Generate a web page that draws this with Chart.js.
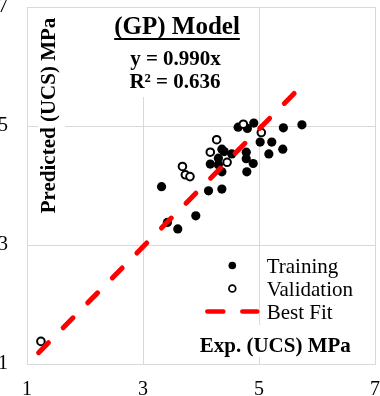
<!DOCTYPE html>
<html>
<head>
<meta charset="utf-8">
<script src="https://cdn.jsdelivr.net/npm/chart.js@4.4.1/dist/chart.umd.min.js"></script>
<style>
  html, body { margin: 0; padding: 0; background: #ffffff; overflow: hidden; width: 380px; height: 396px; }
  #wrap { position: absolute; left: -3px; top: -24px; width: 397px; height: 424px; }
  canvas { display: block; }
</style>
</head>
<body>
<div id="wrap"><canvas id="c" width="397" height="424" style="width:397px;height:424px"></canvas></div>
<script>
// ---- Data ----
const trainX = [3.32, 3.42, 3.60, 3.91, 4.13, 4.36, 4.16, 4.30, 4.30, 4.36, 4.36, 4.40, 4.53, 4.78, 4.78, 4.90, 4.79, 4.64, 4.80, 4.91, 5.02, 5.22, 5.17, 5.41, 5.42, 5.74];
const trainY = [3.98, 3.38, 3.27, 3.49, 3.91, 3.94, 4.36, 4.46, 4.35, 4.23, 4.61, 4.57, 4.53, 4.56, 4.45, 4.37, 4.23, 4.98, 4.96, 5.05, 4.73, 4.73, 4.53, 4.61, 4.97, 5.02];
const validX = [1.24, 3.68, 3.73, 3.81, 4.16, 4.27, 4.45, 4.73, 5.04];
const validY = [1.38, 4.32, 4.18, 4.15, 4.56, 4.77, 4.39, 5.03, 4.89];
const fitX = [1.20, 5.70];
const fitY = [1.19, 5.64];
const xTicks = [1, 3, 5, 7];
const yTicks = [1, 3, 5, 7];
const seriesNames = ['Training', 'Validation', 'Best Fit'];
const titleText = '(GP) Model';
const equationText = 'y = 0.990x';
const r2Text = 'R² = 0.636';
const xTitle = 'Exp. (UCS) MPa';
const yTitle = 'Predicted (UCS) MPa';

const SERIF = '"Liberation Serif", "Times New Roman", serif';
const toPts = (xs, ys) => xs.map((x, i) => ({ x: x, y: ys[i] }));

const annotations = {
  id: 'annotations',
  beforeDatasetsDraw(chart) {
    const { ctx, chartArea: ca } = chart;
    ctx.save();
    // white text boxes (hide gridlines behind labels)
    ctx.fillStyle = '#ffffff';
    ctx.fillRect(ca.left + 78, ca.top + 1, 145, 89);
    ctx.fillRect(ca.left + 11, ca.top + 8, 27, 202);
    ctx.fillRect(ca.left + 168, ca.bottom - 39, 160, 32);

    ctx.fillStyle = '#000000';
    ctx.textAlign = 'center';
    ctx.textBaseline = 'alphabetic';
    // title, underlined
    ctx.font = 'bold 25px ' + SERIF;
    const tx = ca.left + 150, ty = ca.top + 27;
    ctx.fillText(titleText, tx, ty);
    const tw = ctx.measureText(titleText).width;
    ctx.fillRect(tx - tw / 2, ty + 4, tw, 2);
    // equation
    ctx.font = 'bold 21px ' + SERIF;
    ctx.fillText(equationText, ca.left + 148.5, ca.top + 58);
    ctx.fillText(r2Text, ca.left + 148, ca.top + 80.5);
    // x axis title
    ctx.fillText(xTitle, ca.left + 248.3, ca.bottom - 12.3);
    // y axis title (rotated)
    ctx.save();
    ctx.translate(ca.left + 28, ca.top + 108.5);
    ctx.rotate(-Math.PI / 2);
    ctx.fillText(yTitle, 0, 0);
    ctx.restore();
    ctx.restore();
  },
  afterDatasetsDraw(chart) {
    const { ctx, chartArea: ca } = chart;
    const ds = chart.data.datasets;
    const mx = ca.left + 205.3;
    const textX = ca.left + 239.7;
    const row0 = ca.top + 258.5;
    const step = 23;
    ctx.save();
    ctx.font = '21px ' + SERIF;
    ctx.textAlign = 'left';
    ctx.textBaseline = 'alphabetic';
    ds.forEach((d) => {
      const cy = row0 + step * d.legendRow;
      if (d.showLine) {
        ctx.save();
        ctx.strokeStyle = d.borderColor;
        ctx.lineWidth = 4.5;
        ctx.lineCap = 'round';
        ctx.setLineDash([16, 19]);
        ctx.beginPath();
        ctx.moveTo(mx - 25, cy);
        ctx.lineTo(mx + 25, cy);
        ctx.stroke();
        ctx.restore();
      } else {
        ctx.beginPath();
        ctx.arc(mx, cy, d.legendRadius, 0, Math.PI * 2);
        ctx.fillStyle = d.backgroundColor;
        ctx.fill();
        if (d.borderWidth > 0) {
          ctx.lineWidth = 1.7;
          ctx.strokeStyle = d.borderColor;
          ctx.stroke();
        }
      }
      ctx.fillStyle = '#000000';
      ctx.fillText(d.label, textX, cy + 7);
    });
    ctx.restore();
  }
};

new Chart(document.getElementById('c'), {
  type: 'scatter',
  data: {
    datasets: [
      {
        label: seriesNames[2],
        data: toPts(fitX, fitY),
        showLine: true,
        borderColor: '#ff0000',
        borderWidth: 5,
        borderDash: [14, 21],
        borderCapStyle: 'round',
        pointRadius: 0,
        order: 0,
        legendRow: 2
      },
      {
        label: seriesNames[1],
        data: toPts(validX, validY),
        backgroundColor: '#ffffff',
        borderColor: '#000000',
        borderWidth: 2,
        pointRadius: 3.8,
        order: 1,
        legendRow: 1,
        legendRadius: 3.4
      },
      {
        label: seriesNames[0],
        data: toPts(trainX, trainY),
        backgroundColor: '#000000',
        borderColor: '#000000',
        borderWidth: 0,
        pointRadius: 4.6,
        order: 2,
        legendRow: 0,
        legendRadius: 3.8
      }
    ]
  },
  options: {
    responsive: false,
    devicePixelRatio: 1,
    animation: false,
    events: [],
    layout: { padding: { top: 12, right: 5, left: 0, bottom: 0 } },
    plugins: { legend: { display: false }, tooltip: { enabled: false }, title: { display: false } },
    scales: {
      x: {
        type: 'linear',
        min: 1, max: 7,
        afterBuildTicks: s => { s.ticks = xTicks.map(v => ({ value: v })); },
        afterFit: s => { s.height = 36; },
        grid: { color: '#d9d9d9', lineWidth: 1, drawTicks: false },
        border: { color: '#d9d9d9', width: 1 },
        ticks: { font: { family: SERIF, size: 20, lineHeight: 1.2 }, color: '#000000', padding: 14, maxRotation: 0, autoSkip: false }
      },
      y: {
        type: 'linear',
        min: 1, max: 7,
        afterBuildTicks: s => { s.ticks = yTicks.map(v => ({ value: v })); },
        afterFit: s => { s.width = 30; },
        grid: { color: '#d9d9d9', lineWidth: 1, drawTicks: false },
        border: { color: '#d9d9d9', width: 1 },
        ticks: { font: { family: SERIF, size: 20, lineHeight: 1.2 }, color: '#000000', padding: 19, autoSkip: false }
      }
    }
  },
  plugins: [annotations]
});
</script>
</body>
</html>
